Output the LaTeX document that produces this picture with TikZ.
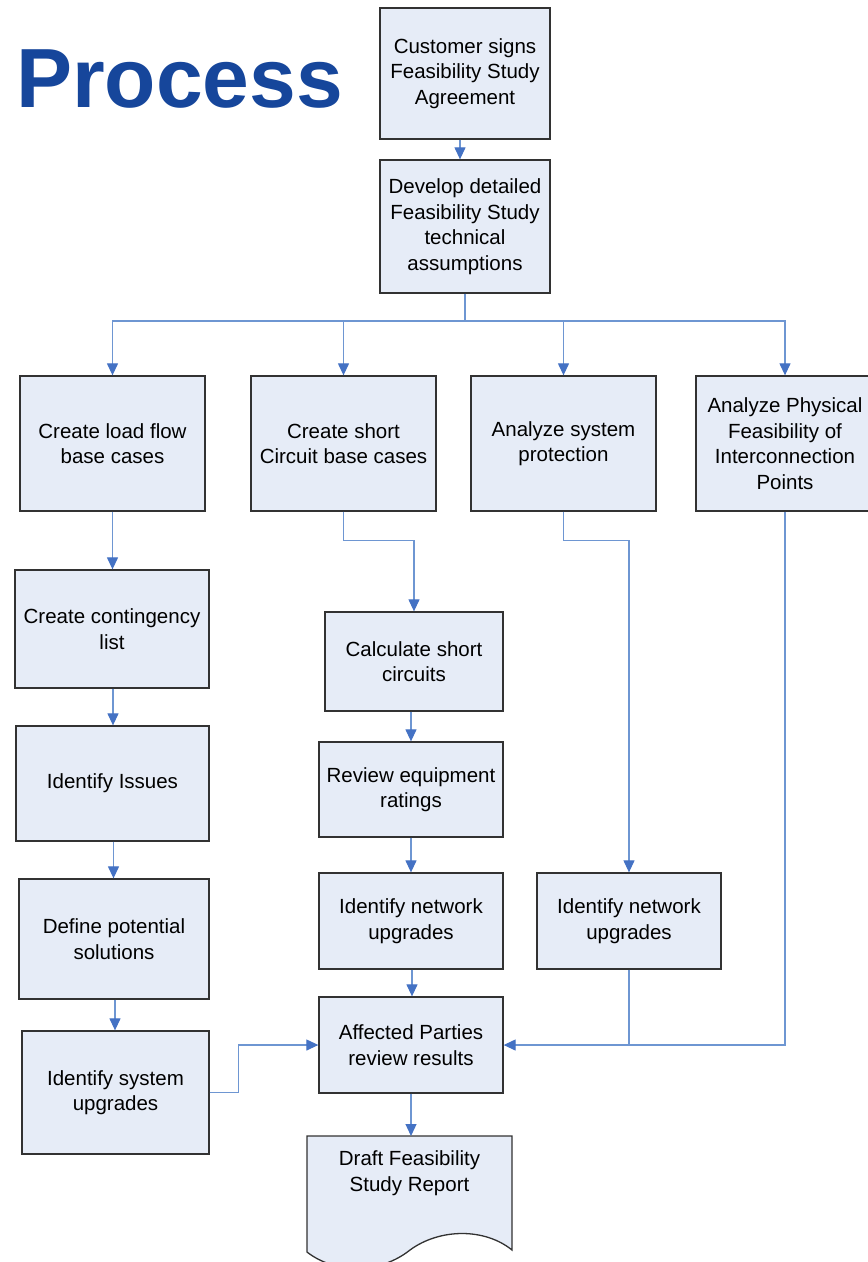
\documentclass[tikz,border=0pt]{standalone}
\usepackage{fontspec}
\setmainfont{Liberation Sans}
\usetikzlibrary{arrows.meta}
\definecolor{boxfill}{RGB}{230,236,247}
\definecolor{boxline}{RGB}{50,50,50}
\definecolor{linkline}{RGB}{110,150,210}
\definecolor{linktip}{RGB}{68,114,196}
\definecolor{titleblue}{RGB}{22,70,155}
\begin{document}
\begin{tikzpicture}[x=1pt,y=-1pt,
  stepbox/.style={draw=boxline, fill=boxfill, line width=1.3pt, inner sep=0pt,
    align=center, font=\fontsize{20.5}{25.5}\selectfont},
  link/.style={draw=linkline, line width=1.2pt},
  flow/.style={link, -{Triangle[length=12pt,width=11pt,color=linktip,fill=linktip]}}]
\useasboundingbox (0,0) rectangle (868,1262);

% title
\node[anchor=base west, inner sep=0pt, text=titleblue,
      font=\fontsize{84}{84}\selectfont\bfseries] (title) at (16,107) {Process};

% top of the flow
\node[stepbox, minimum width=170pt, minimum height=131pt] (cust) at (465,73.5)
  {Customer signs\\Feasibility Study\\Agreement};
\node[stepbox, minimum width=170pt, minimum height=133pt] (dev) at (465,226.5)
  {Develop detailed\\Feasibility Study\\technical\\assumptions};

% four branches
\node[stepbox, minimum width=185pt, minimum height=135pt] (lf) at (112.5,443.5)
  {Create load flow\\base cases};
\node[stepbox, minimum width=185pt, minimum height=135pt] (sc) at (343.5,443.5)
  {Create short\\Circuit base cases};
\node[stepbox, minimum width=185pt, minimum height=135pt] (asp) at (563.5,443.5)
  {Analyze system\\protection};
\node[stepbox, minimum width=178pt, minimum height=135pt] (phys) at (785,443.5)
  {Analyze Physical\\Feasibility of\\Interconnection\\Points};

% load flow column
\node[stepbox, minimum width=194pt, minimum height=118pt] (cont) at (112,629)
  {Create contingency\\list};
\node[stepbox, minimum width=193pt, minimum height=115pt] (iss) at (112.5,783.5)
  {Identify Issues};
\node[stepbox, minimum width=190pt, minimum height=120pt] (def) at (114,939)
  {Define potential\\solutions};
\node[stepbox, minimum width=187pt, minimum height=123pt] (sysup) at (115.5,1092.5)
  {Identify system\\upgrades};

% short circuit column
\node[stepbox, minimum width=178pt, minimum height=99pt] (calc) at (414,661.5)
  {Calculate short\\circuits};
\node[stepbox, minimum width=184pt, minimum height=95pt] (rev) at (411,789.5)
  {Review equipment\\ratings};
\node[stepbox, minimum width=184pt, minimum height=96pt] (net1) at (411,921)
  {Identify network\\upgrades};
\node[stepbox, minimum width=184pt, minimum height=96pt] (aff) at (411,1045)
  {Affected Parties\\review results};

% protection column
\node[stepbox, minimum width=184pt, minimum height=96pt] (net2) at (629,921)
  {Identify network\\upgrades};

% report (document shape)
\draw[draw=boxline, fill=boxfill, line width=1.3pt]
  (307,1136) -- (512,1136) -- (512,1250)
  .. controls (485,1228) and (440,1228) .. (410,1250)
  .. controls (380,1274) and (335,1274) .. (307,1252) -- cycle;
\coordinate (doctop) at (409.5,1136);
\node[align=center, inner sep=0pt, font=\fontsize{20.5}{25.5}\selectfont]
  (doc) at (409.5,1173) {Draft Feasibility\\Study Report};

% connectors
\coordinate (bus) at (465,321);
\draw[flow] ([xshift=-5pt]cust.south) -- ([xshift=-5pt]dev.north);
\draw[link] (dev.south) -- (bus);
\draw[flow] (bus) -| (lf.north);
\draw[flow] (bus) -| (sc.north);
\draw[flow] (bus) -| (asp.north);
\draw[flow] (bus) -| (phys.north);

\draw[flow] (lf.south) -- (lf.south |- cont.north);
\draw[flow] ([xshift=1pt]cont.south) -- ([xshift=1pt]cont.south |- iss.north);
\draw[flow] ([xshift=1pt]iss.south) -- ([xshift=1pt]iss.south |- def.north);
\draw[flow] ([xshift=1pt]def.south) -- ([xshift=1pt]def.south |- sysup.north);
\draw[flow] (sysup.east) -- ++(29,0) |- (aff.west);

\draw[flow] (sc.south) -- ++(0,29) -| (calc.north);
\draw[flow] (rev.north |- calc.south) -- (rev.north);
\draw[flow] (rev.south) -- (net1.north);
\draw[flow] ([xshift=1pt]net1.south) -- ([xshift=1pt]aff.north);
\draw[flow] (aff.south) -- (aff.south |- doctop);

\draw[flow] (asp.south) -- ++(0,29) -| (net2.north);
\draw[link] (net2.south) -- (net2.south |- aff.east);
\draw[flow] (phys.south) |- (aff.east);
\end{tikzpicture}
\end{document}
